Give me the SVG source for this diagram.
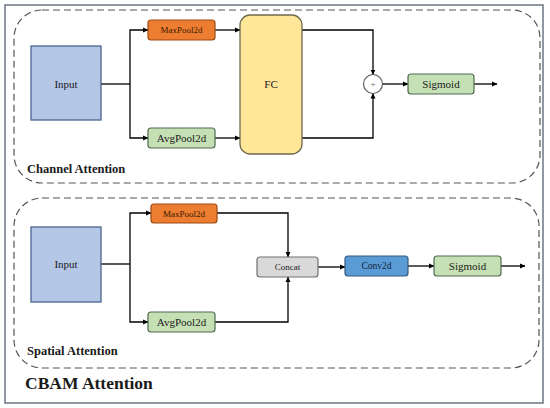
<svg xmlns="http://www.w3.org/2000/svg" width="550" height="408" viewBox="0 0 550 408">
<defs>
<marker id="ah" markerWidth="6" markerHeight="6" refX="5" refY="3" orient="auto" markerUnits="userSpaceOnUse">
<path d="M0,0.5 L5.5,3 L0,5.5 Z" fill="#000"/>
</marker>
</defs>
<style>
text{font-family:'Liberation Serif','Times New Roman',Times,'DejaVu Serif',serif}
.t{fill:#1a1a1a;text-anchor:middle;dominant-baseline:central}
.lbl{font-weight:bold;fill:#1a1a1a}
.c{fill:none;stroke:#000;stroke-width:1.3}
.a{marker-end:url(#ah)}
.dash{fill:none;stroke:#555;stroke-width:1.2;stroke-dasharray:7,4}
.inp{fill:#b4c7e7;stroke:#4a6590;stroke-width:1.3}
.mp{fill:#ed7d31;stroke:#9c4a12;stroke-width:1.2}
.ap{fill:#c5e0b4;stroke:#4e6b4e;stroke-width:1.2}
.sg{fill:#c5e0b4;stroke:#4e6b4e;stroke-width:1.2}
</style>
<rect x="5" y="5" width="538" height="398" fill="#fff" stroke="#6b7785" stroke-width="1.5"/>
<rect class="dash" x="14" y="10" width="526" height="173" rx="28"/>
<rect class="dash" x="14" y="198" width="525" height="170" rx="28"/>
<text class="lbl" x="27" y="173" font-size="12.5">Channel Attention</text>
<text class="lbl" x="27" y="355" font-size="12.5">Spatial Attention</text>
<text class="lbl" x="25" y="389" font-size="17.5">CBAM Attention</text>

<g id="connectors">
<path class="c" d="M101,84 H130"/>
<path class="c a" d="M130,84 V30 H148"/>
<path class="c a" d="M130,84 V138 H148"/>
<path class="c a" d="M215,30 H240"/>
<path class="c a" d="M215,138 H240"/>
<path class="c a" d="M302,30 H373 V74.5"/>
<path class="c a" d="M302,138 H373 V93.5"/>
<path class="c a" d="M382.5,84 H408"/>
<path class="c a" d="M474,84 H497"/>

<path class="c" d="M101,264 H130"/>
<path class="c a" d="M130,264 V213 H151"/>
<path class="c a" d="M130,264 V322 H148"/>
<path class="c a" d="M217,213 H288 V257"/>
<path class="c a" d="M215,322 H288 V277"/>
<path class="c a" d="M318,267 H345"/>
<path class="c a" d="M408,266 H434"/>
<path class="c a" d="M501,266 H525"/>
</g>

<g id="ca-input"><rect class="inp" x="31" y="46" width="70" height="74"/><text class="t" x="66" y="84" font-size="11">Input</text></g>
<g id="ca-maxpool"><rect class="mp" x="148" y="20" width="67" height="20" rx="3"/><text class="t" x="181.5" y="30" font-size="9" style="fill:#3a1a00">MaxPool2d</text></g>
<g id="ca-avgpool"><rect class="ap" x="148" y="128" width="67" height="20" rx="3"/><text class="t" x="181.5" y="138" font-size="11">AvgPool2d</text></g>
<g id="ca-fc"><rect x="240" y="15" width="62" height="139" rx="10" fill="#ffe699" stroke="#6e6a4e" stroke-width="1.3"/><text class="t" x="271" y="84" font-size="11">FC</text></g>
<g id="ca-add"><circle cx="373" cy="84" r="9.5" fill="#fff" stroke="#555" stroke-width="1.1"/><text class="t" x="373" y="84" font-size="9" style="fill:#666">+</text></g>
<g id="ca-sigmoid"><rect class="sg" x="408" y="74" width="66" height="20" rx="3"/><text class="t" x="441" y="84" font-size="11">Sigmoid</text></g>

<g id="sa-input"><rect class="inp" x="31" y="227" width="70" height="75"/><text class="t" x="66" y="264" font-size="11">Input</text></g>
<g id="sa-maxpool"><rect class="mp" x="151" y="204" width="66" height="19" rx="3"/><text class="t" x="184" y="213.5" font-size="9" style="fill:#3a1a00">MaxPool2d</text></g>
<g id="sa-avgpool"><rect class="ap" x="148" y="312" width="67" height="20" rx="3"/><text class="t" x="181.5" y="322" font-size="11">AvgPool2d</text></g>
<g id="sa-concat"><rect x="257" y="257" width="61" height="20" rx="3" fill="#d9d9d9" stroke="#707070" stroke-width="1.2"/><text class="t" x="287.5" y="267" font-size="9">Concat</text></g>
<g id="sa-conv"><rect x="345" y="256" width="63" height="20" rx="3" fill="#5b9bd5" stroke="#34587e" stroke-width="1.2"/><text class="t" x="376.5" y="266" font-size="9.5" style="fill:#0f2540">Conv2d</text></g>
<g id="sa-sigmoid"><rect class="sg" x="434" y="256" width="67" height="20" rx="3"/><text class="t" x="467.5" y="266" font-size="11">Sigmoid</text></g>
</svg>
